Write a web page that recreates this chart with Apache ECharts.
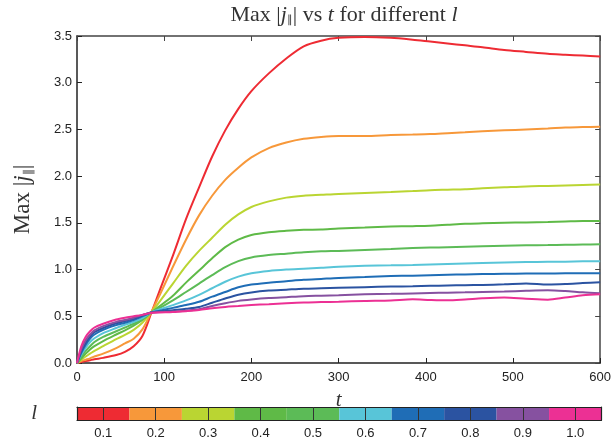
<!DOCTYPE html>
<html>
<head>
<meta charset="utf-8">
<script src="https://cdn.jsdelivr.net/npm/echarts@6/dist/echarts.min.js"></script>
<style>html,body{margin:0;padding:0;background:#fff;}#c{width:614px;height:445px;}</style>
</head>
<body>
<div id="c"></div>
<script>
// ---- data ----
var lValues = [0.1, 0.2, 0.3, 0.4, 0.5, 0.6, 0.7, 0.8, 0.9, 1.0];
var lLabels = ['0.1','0.2','0.3','0.4','0.5','0.6','0.7','0.8','0.9','1.0'];
var lColors = ['#EE2B33', '#F7983A', '#BAD532', '#5FBA47', '#5CBB57', '#58C5D8', '#1F6DB6', '#2B53A1', '#8651A0', '#EC3094'];
var tValues = [0,5,10,15,20,30,45,55,65,75,85,95,110,125,140,155,170,185,200,220,240,260,280,300,330,360,385,405,425,445,465,490,515,540,560,580,600];
var xTicks = [0,100,200,300,400,500,600];
var yTicks = [0,0.5,1.0,1.5,2.0,2.5,3.0,3.5];

var jL01 = [0,0.01,0.02,0.03,0.04,0.055,0.085,0.12,0.18,0.29,0.53,0.78,1.15,1.54,1.88,2.21,2.49,2.72,2.91,3.10,3.26,3.39,3.45,3.48,3.49,3.48,3.46,3.44,3.42,3.40,3.38,3.35,3.33,3.31,3.30,3.29,3.28];
var jL02 = [0,0.02,0.035,0.05,0.07,0.10,0.16,0.21,0.26,0.36,0.54,0.73,1.03,1.32,1.58,1.79,1.96,2.09,2.20,2.30,2.36,2.40,2.42,2.43,2.43,2.44,2.445,2.45,2.46,2.47,2.48,2.49,2.50,2.51,2.52,2.525,2.53];
var jL03 = [0,0.035,0.07,0.10,0.13,0.18,0.255,0.30,0.355,0.43,0.54,0.66,0.85,1.04,1.20,1.34,1.48,1.59,1.67,1.73,1.77,1.79,1.80,1.81,1.82,1.83,1.84,1.85,1.855,1.86,1.87,1.88,1.89,1.895,1.90,1.905,1.91];
var jL04 = [0,0.05,0.10,0.145,0.18,0.235,0.305,0.35,0.40,0.46,0.54,0.61,0.72,0.86,0.99,1.12,1.24,1.32,1.37,1.40,1.415,1.425,1.43,1.44,1.45,1.46,1.465,1.47,1.48,1.49,1.495,1.50,1.505,1.51,1.515,1.52,1.52];
var jL05 = [0,0.07,0.13,0.18,0.225,0.28,0.34,0.38,0.42,0.47,0.54,0.59,0.67,0.76,0.85,0.94,1.025,1.09,1.13,1.155,1.17,1.185,1.195,1.20,1.21,1.22,1.23,1.235,1.24,1.245,1.25,1.255,1.26,1.262,1.265,1.268,1.27];
var jL06 = [0,0.09,0.165,0.225,0.265,0.32,0.375,0.41,0.44,0.48,0.54,0.575,0.62,0.67,0.73,0.80,0.87,0.925,0.96,0.985,1.00,1.01,1.02,1.03,1.04,1.045,1.05,1.055,1.06,1.065,1.07,1.075,1.08,1.083,1.085,1.088,1.09];
var jL07 = [0,0.11,0.195,0.26,0.305,0.355,0.405,0.43,0.46,0.50,0.54,0.56,0.59,0.62,0.655,0.71,0.76,0.81,0.84,0.86,0.875,0.89,0.90,0.91,0.92,0.93,0.935,0.94,0.945,0.948,0.952,0.955,0.957,0.958,0.96,0.96,0.96];
var jL08 = [0,0.13,0.22,0.285,0.33,0.375,0.425,0.45,0.475,0.51,0.54,0.55,0.565,0.58,0.60,0.645,0.69,0.73,0.755,0.775,0.785,0.795,0.80,0.805,0.812,0.818,0.822,0.826,0.83,0.833,0.836,0.842,0.852,0.84,0.845,0.855,0.864];
var jL09 = [0,0.15,0.245,0.305,0.35,0.395,0.44,0.46,0.485,0.515,0.54,0.545,0.55,0.56,0.575,0.61,0.64,0.665,0.68,0.695,0.705,0.715,0.72,0.725,0.735,0.74,0.745,0.749,0.753,0.756,0.76,0.765,0.773,0.778,0.77,0.756,0.746];
var jL10 = [0,0.18,0.28,0.34,0.38,0.42,0.465,0.485,0.50,0.515,0.535,0.54,0.545,0.555,0.567,0.585,0.60,0.61,0.62,0.63,0.64,0.648,0.652,0.656,0.664,0.67,0.682,0.675,0.671,0.68,0.692,0.70,0.688,0.678,0.70,0.725,0.735];
var curves = [jL01,jL02,jL03,jL04,jL05,jL06,jL07,jL08,jL09,jL10];

// ---- chart ----
var chart = echarts.init(document.getElementById('c'), null, {renderer:'canvas'});
var serif = 'Liberation Serif';
var sans = 'Liberation Sans';
var axisColor = '#222';

var series = curves.map(function(vals, i){
  return {
    type:'line', xAxisIndex:0, yAxisIndex:0, name: lLabels[i],
    data: tValues.map(function(t, k){ return [t, vals[k]]; }),
    showSymbol:false, smooth:0.3,
    lineStyle:{color:lColors[i], width:2}, itemStyle:{color:lColors[i]},
    z: 2 + i
  };
});
series.push({
  type:'custom', xAxisIndex:2, yAxisIndex:2, z:1,
  data: lValues.map(function(l, i){ return [l, i]; }),
  renderItem: function(params, api){
    var l = api.value(0), idx = api.value(1);
    var p0 = api.coord([l-0.05, 1]);
    var p1 = api.coord([l+0.05, 0]);
    return {type:'rect', shape:{x:p0[0], y:p0[1], width:p1[0]-p0[0], height:p1[1]-p0[1]},
            style:{fill:lColors[idx]}};
  }
});

function richOf(fs){
  return {
    n:{fontFamily:serif, fontSize:fs, fontWeight:'normal', color:'#333'},
    i:{fontFamily:serif, fontSize:fs, fontWeight:'normal', fontStyle:'italic', color:'#333'},
    s:{fontFamily:serif, fontSize:Math.round(fs*0.52), fontWeight:'normal', color:'#333', padding:[Math.round(fs*0.52),0,0,0]}
  };
}
var yMin = yTicks[0], yMax = yTicks[yTicks.length-1];
var option = {
  animation:false,
  backgroundColor:'#fff',
  title:{
    text:'{n|Max |}{i|j}{s|∥}{n|| vs }{i|t}{n| for different }{i|l}',
    left:339, top:-1, textAlign:'center',
    textStyle:{fontWeight:'normal', rich:richOf(22)}
  },
  grid:[
    {left:77, right:12.5, top:36, bottom:82},
    {left:77, right:12.5, top:407, height:13}
  ],
  xAxis:[
    {gridIndex:0, type:'value', min:xTicks[0], max:xTicks[xTicks.length-1], interval:100, position:'bottom',
     name:'t', nameLocation:'middle', nameGap:27,
     nameTextStyle:{fontFamily:serif, fontStyle:'italic', fontSize:21, color:'#333'},
     axisLine:{onZero:false, lineStyle:{color:axisColor, width:1.5}},
     axisTick:{inside:true, length:5, lineStyle:{color:axisColor}},
     axisLabel:{fontFamily:sans, fontSize:13, color:'#222', margin:8},
     splitLine:{show:false}},
    {gridIndex:0, type:'value', min:xTicks[0], max:xTicks[xTicks.length-1], interval:100, position:'top',
     axisLine:{onZero:false, lineStyle:{color:'#444', width:1.5}},
     axisTick:{inside:true, length:5, lineStyle:{color:'#444'}},
     axisLabel:{show:false}, splitLine:{show:false}},
    {gridIndex:1, type:'value', min:0.05, max:1.05, position:'bottom', z:5,
     axisLine:{onZero:false, lineStyle:{color:axisColor, width:1.2}},
     axisTick:{inside:true, length:13, customValues:lValues, lineStyle:{color:'#333', width:1}},
     axisLabel:{customValues:lValues, formatter:function(v){ return v.toFixed(1); },
                fontFamily:sans, fontSize:13, color:'#222', margin:7},
     splitLine:{show:false}},
    {gridIndex:1, type:'value', min:0.05, max:1.05, position:'top', z:5,
     axisLine:{onZero:false, lineStyle:{color:axisColor, width:1.2}},
     axisTick:{show:false}, axisLabel:{show:false}, splitLine:{show:false}}
  ],
  yAxis:[
    {gridIndex:0, type:'value', min:yMin, max:yMax, interval:0.5, position:'left',
     name:'{n|Max |}{i|j}{s|∥}{n||}', nameLocation:'middle', nameGap:42,
     nameTextStyle:{rich:richOf(23)},
     axisLine:{onZero:false, lineStyle:{color:axisColor, width:1.5}},
     axisTick:{inside:true, length:5, lineStyle:{color:axisColor}},
     axisLabel:{fontFamily:sans, fontSize:13, color:'#222', margin:5,
                formatter:function(v){ return v.toFixed(1); }},
     splitLine:{show:false}},
    {gridIndex:0, type:'value', min:yMin, max:yMax, interval:0.5, position:'right',
     axisLine:{onZero:false, lineStyle:{color:'#444', width:1.5}},
     axisTick:{inside:true, length:5, lineStyle:{color:'#444'}},
     axisLabel:{show:false}, splitLine:{show:false}},
    {gridIndex:1, type:'value', min:0, max:1, position:'left', z:5,
     name:'l', nameLocation:'middle', nameGap:40, nameRotate:0,
     nameTextStyle:{fontFamily:serif, fontStyle:'italic', fontSize:21, color:'#333'},
     axisLine:{onZero:false, lineStyle:{color:axisColor, width:1.2}},
     axisTick:{show:false}, axisLabel:{show:false}, splitLine:{show:false}},
    {gridIndex:1, type:'value', min:0, max:1, position:'right', z:5,
     axisLine:{onZero:false, lineStyle:{color:axisColor, width:1.2}},
     axisTick:{show:false}, axisLabel:{show:false}, splitLine:{show:false}}
  ],
  series: series
};
chart.setOption(option);
</script>
</body>
</html>
